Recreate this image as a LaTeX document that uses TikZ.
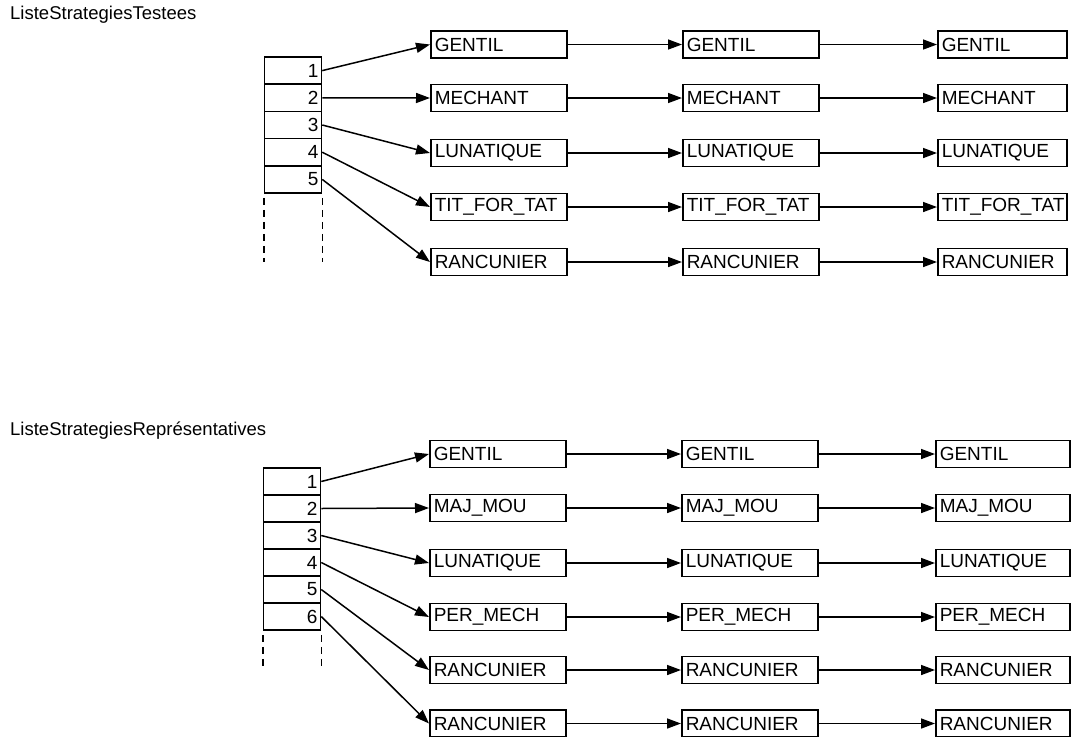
\documentclass[tikz,border=0pt]{standalone}
\usepackage{fontspec}
\setmainfont{Liberation Sans}
\usetikzlibrary{arrows.meta}
\begin{document}
\begin{tikzpicture}[x=1pt,y=-1pt,
  strat/.style={draw, line width=1.5pt, minimum height=27pt, inner xsep=4pt, inner ysep=0pt,
    text width=#1, align=left, anchor=west, font=\fontsize{19}{19}\selectfont},
  strat/.default=128pt,
  cell/.style={draw, line width=1.5pt, minimum height=27.2pt, inner xsep=3pt, inner ysep=0pt,
    text width=51pt, align=right, font=\fontsize{19}{19}\selectfont},
  link/.style={line width=1.5pt, -{Triangle[length=14pt,width=10pt]}},
  dots/.style={line width=1.5pt, dash pattern=on 7pt off 5pt},
  title/.style={anchor=west, inner sep=0pt, font=\fontsize{18.5}{18.5}\selectfont}]
\useasboundingbox (0,0) rectangle (1072,737);

% ---------- top section ----------
\node[title] (titleA) at (10,15) {ListeStrategiesTestees};
\foreach \i/\y in {1/70.6,2/97.8,3/125,4/152.2,5/179.4}
  \node[cell] (a\i) at (293,\y) {\i};
\draw[dots] (a5.south west) ++(0,4) -- ++(0,64);
\draw[dots] (a5.south east) ++(0,4) -- ++(0,64);

\foreach \r/\y/\t in {1/44.5/GENTIL,2/98/MECHANT,3/153/LUNATIQUE,4/207/TIT\_FOR\_TAT,5/262/RANCUNIER}{
  \node[strat] (p\r c1) at (430,\y) {\t};
  \node[strat] (p\r c2) at (682,\y) {\t};
  \node[strat=121pt] (p\r c3) at (937,\y) {\t};
  \draw[link] (p\r c1.east) -- (p\r c2.west);
  \draw[link] (p\r c2.east) -- (p\r c3.west);
  \draw[link] (a\r.east) -- (p\r c1.west);
}

% ---------- bottom section ----------
\node[title] (titleB) at (10,431) {ListeStrategiesReprésentatives};
\foreach \i/\y in {1/481.5,2/508.5,3/535.5,4/562.5,5/589.5,6/616.5}
  \node[cell, minimum height=27pt] (b\i) at (292,\y) {\i};
\draw[dots] (b6.south west) ++(0,4) -- ++(0,34);
\draw[dots] (b6.south east) ++(0,4) -- ++(0,34);

\foreach \r/\y/\t in {1/454/GENTIL,2/508/MAJ\_MOU,3/563/LUNATIQUE,4/617/PER\_MECH,5/670/RANCUNIER,6/723.5/RANCUNIER}{
  \node[strat] (q\r c1) at (429,\y) {\t};
  \node[strat] (q\r c2) at (681,\y) {\t};
  \node[strat=126pt] (q\r c3) at (935,\y) {\t};
  \draw[link] (q\r c1.east) -- (q\r c2.west);
  \draw[link] (q\r c2.east) -- (q\r c3.west);
  \draw[link] (b\r.east) -- (q\r c1.west);
}
\end{tikzpicture}
\end{document}
